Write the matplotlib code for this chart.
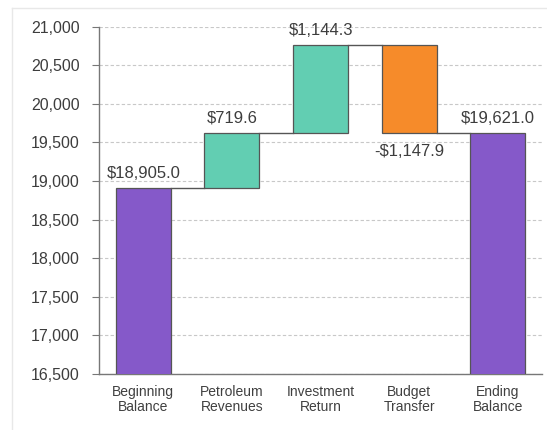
import matplotlib
matplotlib.use("Agg")
import matplotlib.pyplot as plt
from matplotlib.lines import Line2D

categories = ["Beginning\nBalance", "Petroleum\nRevenues", "Investment\nReturn",
              "Budget\nTransfer", "Ending\nBalance"]
values = [18905.0, 719.6, 1144.3, -1147.9, 19621.0]
kinds = ["total", "increase", "increase", "decrease", "total"]
yticks = [16500, 17000, 17500, 18000, 18500, 19000, 19500, 20000, 20500, 21000]

colors = {"total": "#8559c9", "increase": "#62ceb2", "decrease": "#f68b2a"}

plt.rcParams['font.family'] = ['Liberation Sans', 'DejaVu Sans']

fig = plt.figure(figsize=(5.47, 4.30), dpi=100)
ax = fig.add_axes([0.181, 0.130, 0.810, 0.808])

width = 0.62
running = 0.0
levels = []
for i, (v, k) in enumerate(zip(values, kinds)):
    if k == "total":
        bottom, height = 0.0, v
        running = v
    else:
        if v >= 0:
            bottom, height = running, v
        else:
            bottom, height = running + v, -v
        running += v
    ax.bar(i, height, bottom=bottom, width=width, color=colors[k],
           edgecolor="#555555", linewidth=0.9, zorder=3)
    levels.append(running)
    txt = ("-$" if v < 0 else "$") + f"{abs(v):,.1f}"
    if v >= 0:
        ax.annotate(txt, (i, bottom + height), xytext=(0, 5), textcoords="offset points",
                    ha="center", va="bottom", fontsize=12, color="#3d3d3d", zorder=5)
    else:
        ax.annotate(txt, (i, bottom), xytext=(0, -8), textcoords="offset points",
                    ha="center", va="top", fontsize=12, color="#3d3d3d", zorder=5)

# connector lines
for i in range(len(values) - 1):
    ax.plot([i + width / 2, i + 1 - width / 2], [levels[i], levels[i]],
            color="#555555", linewidth=1.0, zorder=4)

ax.set_xlim(-0.5, len(categories) - 0.5)
ax.set_ylim(16500, 21000)
ax.set_yticks(yticks)
ax.set_yticklabels([f"{t:,}" for t in yticks])
ax.set_xticks(range(len(categories)))
ax.set_xticklabels(categories, fontsize=10, color="#404040", linespacing=1.05)
ax.tick_params(axis="y", labelsize=11.5, labelcolor="#3d3d3d", length=5,
               color="#777777", pad=9)
ax.tick_params(axis="x", length=0, pad=8)

ax.grid(axis="y", linestyle=(0, (3, 2)), color="#c8c8c8", linewidth=0.8, zorder=0)
ax.set_axisbelow(True)
for s in ["top", "right"]:
    ax.spines[s].set_visible(False)
for s in ["left", "bottom"]:
    ax.spines[s].set_color("#777777")
    ax.spines[s].set_linewidth(1.0)

# faint outer frame of the original screenshot
fig.add_artist(Line2D([12 / 547, 12 / 547], [0, 1 - 8 / 430],
                      transform=fig.transFigure, color="#e8e8e8", linewidth=1))
fig.add_artist(Line2D([12 / 547, 1], [1 - 8 / 430, 1 - 8 / 430],
                      transform=fig.transFigure, color="#e8e8e8", linewidth=1))

fig.savefig("out.png", dpi=100)
